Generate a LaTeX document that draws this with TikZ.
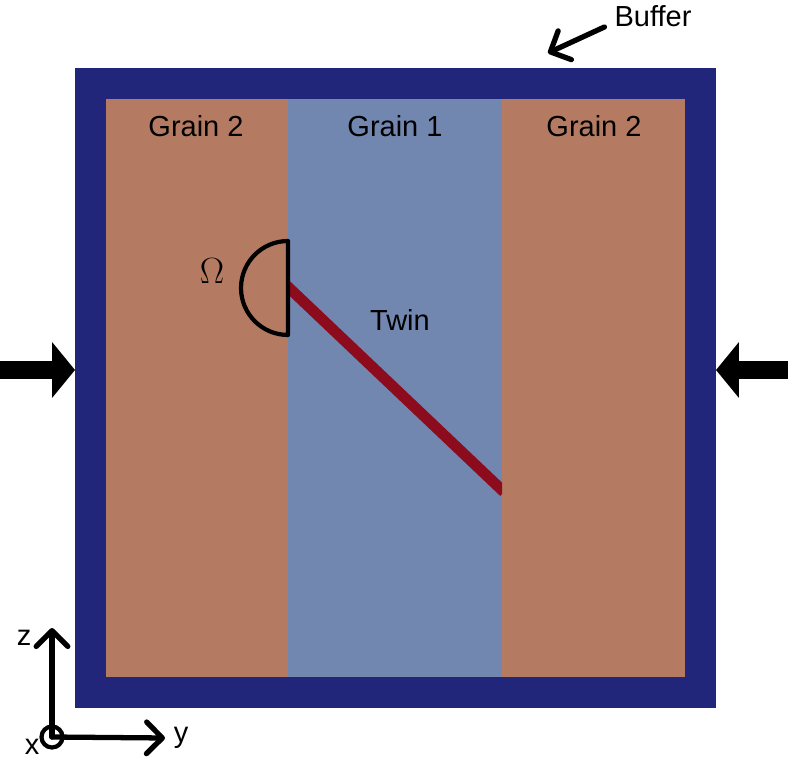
\documentclass[tikz,border=0pt]{standalone}
\usepackage{fontspec}
\setmainfont{Liberation Sans}
\newfontfamily\serifomega{Liberation Serif}
\usetikzlibrary{arrows.meta}

\definecolor{buffercol}{RGB}{33,38,122}
\definecolor{graintwo}{RGB}{180,123,98}
\definecolor{grainone}{RGB}{114,135,176}
\definecolor{twincol}{RGB}{140,12,30}

\begin{document}
\begin{tikzpicture}[
            x=0.02cm, y=-0.02cm, % 像素坐标
            every node/.style={font=\fontsize{16.5}{20}\selectfont}, % 字体大小
            label text/.style={anchor=center}, % 文字
            thin arrow/.style={
                line width=3pt, % 线宽
                line cap=round,
                -{Straight Barb[length=9pt, width=18pt, line width=3pt, round]} % 箭头
            },
            load arrow/.style={
                line width=10pt, % 粗箭头
                -{Triangle[length=13pt, width=31pt]}
            }
        ]
        \useasboundingbox (0,0) rectangle (788,760);

        % 缓冲层与晶粒
        \fill[buffercol] (75,68) rectangle (716,708);
        \fill[graintwo] (106,99) rectangle (288,677);
        \fill[grainone] (288,99) rectangle (502,677);
        \fill[graintwo] (502,99) rectangle (685,677);

        % 孪晶
        \begin{scope}
            \clip (288,99) rectangle (502,677);
            \draw[twincol, line width=6.2pt] (286,285) -- (504,492);
        \end{scope}

        % 半圆区域 Omega
        \draw[line width=2.4pt, line join=round] (288,241) arc[start angle=90, end angle=270, radius=0.94cm] -- cycle;

        % 标签
        \node[label text] (g2l) at (196,126) {Grain 2};
        \node[label text] (g1) at (395,126) {Grain 1};
        \node[label text] (g2r) at (594,126) {Grain 2};
        \node[label text] (twin) at (400,320) {Twin};
        \node[label text, font=\fontsize{21}{24}\selectfont] (omega) at (212,271) {\serifomega $\Omega$};
        \node[label text] (buffer) at (653,16) {Buffer};

        % 缓冲层箭头
        \coordinate (bufend) at (548,53);
        \draw[thin arrow] (buffer.west) ++(-4,11) -- (bufend);

        % 左右加载
        \coordinate (leftstart) at (0,370);
        \coordinate (leftend) at (75,370);
        \coordinate (rightstart) at (788,370);
        \coordinate (rightend) at (716,370);
        \draw[load arrow] (leftstart) -- (leftend);
        \draw[load arrow] (rightstart) -- (rightend);

        % 坐标轴
        \node[circle, draw, line width=2.4pt, minimum size=0.42cm, inner sep=0] (origin) at (52,737) {};
        \coordinate (ztip) at (52,628);
        \coordinate (ytip) at (165,738);
        \draw[thin arrow] (origin.center) -- (ztip);
        \draw[thin arrow] (origin.center) -- (ytip);
        \node[label text] (zlab) at (24,638) {z};
        \node[label text] (ylab) at (181,738) {y};
        \node[label text] (xlab) at (32,747) {x};
\end{tikzpicture}
\end{document}
